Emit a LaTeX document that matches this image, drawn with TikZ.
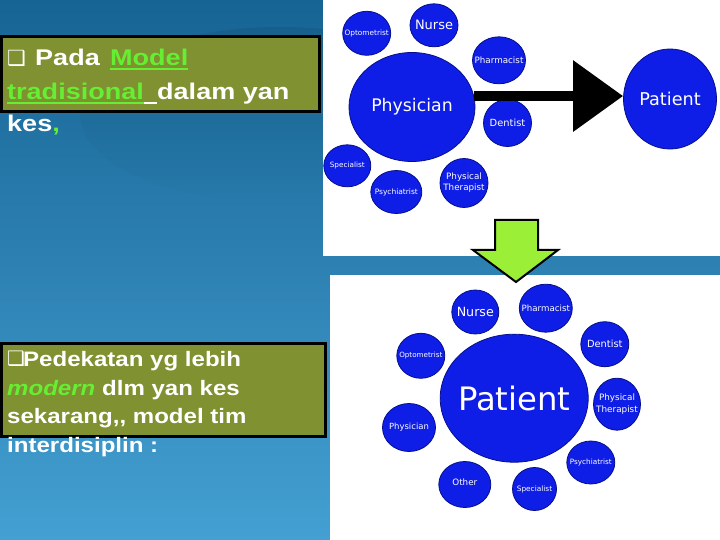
\documentclass[tikz,border=0pt]{standalone}
\usepackage{fontspec}
\setmainfont{Liberation Sans}
\newfontfamily\boxfA[FakeStretch=1.19]{Liberation Sans}
\newfontfamily\boxfB[FakeStretch=1.15]{Liberation Sans}
\newfontfamily\labf{DejaVu Sans}
\newfontfamily\symf{DejaVu Sans}
\usetikzlibrary{shapes.geometric,arrows.meta,fadings}
\definecolor{bgtop}{RGB}{22,100,148}
\definecolor{bgbot}{RGB}{68,160,210}
\definecolor{olivebox}{RGB}{127,145,48}
\definecolor{greentext}{RGB}{102,238,51}
\definecolor{bubfill}{RGB}{15,30,230}
\definecolor{bubline}{RGB}{5,15,140}
\definecolor{arrowgreen}{RGB}{155,240,55}
\begin{document}
\begin{tikzpicture}[x=1bp,y=-1bp,
  bub/.style 2 args={ellipse, fill=bubfill, draw=bubline, line width=0.8bp, inner sep=0pt, minimum width=#1bp, minimum height=#2bp},
  lab/.style 2 args={text=white, inner sep=0pt, align=center, font=\labf\fontsize{#1}{#2}\selectfont},
  txtA/.style={inner sep=0pt, anchor=base west, text=white, font=\boxfA\bfseries\fontsize{22.8}{27}\selectfont},
  txtB/.style={inner sep=0pt, anchor=base west, text=white, font=\boxfB\bfseries\fontsize{21}{25}\selectfont},
  symb/.style={inner sep=0pt, anchor=base west, text=white, font=\symf\fontsize{#1}{#1}\selectfont},
  textbox/.style={draw=black, line width=3bp, fill=olivebox},
  uline/.style={line width=2.2bp}
]
\useasboundingbox (0,0) rectangle (720,540);
% background
\shade[top color=bgtop, bottom color=bgbot] (0,0) rectangle (720,540);
\fill[black, opacity=0.07, path fading=south] (280,115) ellipse [x radius=200, y radius=88];
% white panels
\fill[white] (323,0) rectangle (720,256);
\fill[white] (330,275) rectangle (720,540);

% text box 1
\draw[textbox] (1.5,36.5) rectangle (319,111.5);
\node[symb=21] (chk1) at (7,65.5) {❑};
\node[txtA] (pada) at (35,66) {Pada};
\node[txtA, text=greentext] (model) at (110,66) {Model};
\node[txtA, text=greentext] (tradi) at (7,100) {tradisional};
\node[txtA] (dalam) at (157,100) {dalam yan};
\node[txtA] (kes) at (7,132) {kes\textcolor{greentext}{,}};
\draw[uline, greentext] ([yshift=-3bp]model.base west) -- ([yshift=-3bp]model.base east);
\draw[uline, greentext] ([yshift=-3bp]tradi.base west) -- ([yshift=-3bp]tradi.base east);
\draw[uline, white] ([yshift=-3bp]tradi.base east) -- ([yshift=-3bp]dalam.base west);

% text box 2
\draw[textbox] (1.5,343.5) rectangle (325,436.5);
\node[symb=20] (chk2) at (7,365.5) {❑};
\node[txtB] (ped) at (23,366) {Pedekatan yg lebih};
\node[txtB] (mod) at (7,395) {\textcolor{greentext}{\itshape modern} dlm yan kes};
\node[txtB] (sek) at (7,423) {sekarang,, model tim};
\node[txtB] (inter) at (7,452) {interdisiplin :};

% top diagram
\node[bub={48}{44}] (optT) at (366.7,33.3) {};
\node[bub={48}{43}] (nurseT) at (434,25.3) {};
\node[bub={53}{47}] (pharmT) at (499,60.3) {};
\node[bub={126}{109}] (physT) at (412,107) {};
\node[bub={48}{47}] (dentT) at (507.5,123) {};
\node[bub={47}{42}] (specT) at (347.3,165.8) {};
\node[bub={51}{43}] (psyT) at (396.3,192) {};
\node[bub={48}{49}] (ptT) at (464,183) {};
\node[bub={93}{100}] (patT) at (670,99) {};
\node[lab={7.4}{9}] (optTl) at (optT.center) {Optometrist};
\node[lab={13}{15}] (nurseTl) at (nurseT.center) {Nurse};
\node[lab={8.8}{10}] (pharmTl) at (pharmT.center) {Pharmacist};
\node[lab={17.4}{20}] (physTl) at (physT.center) {Physician};
\node[lab={9.9}{11}] (dentTl) at (dentT.center) {Dentist};
\node[lab={7.3}{9}] (specTl) at (specT.center) {Specialist};
\node[lab={7.5}{9}] (psyTl) at (psyT.center) {Psychiatrist};
\node[lab={8.8}{11}] (ptTl) at (ptT.center) {Physical\\Therapist};
\node[lab={17.7}{20}] (patTl) at (patT.center) {Patient};
\draw[line width=10bp, -{Triangle[length=50bp,width=69bp]}] (physT.10) -- (physT.10 -| patT.west);

% green down arrow
\draw[line width=2bp, fill=arrowgreen, line join=miter]
  (495,220) -- (538,220) -- (538,250) -- (558,250) -- (516,282) -- (473,250) -- (495,250) -- cycle;

% bottom diagram
\node[bub={47}{44}] (nurseB) at (475.3,312) {};
\node[bub={53}{48}] (pharmB) at (545.8,308.2) {};
\node[bub={48}{45}] (dentB) at (604.8,344.2) {};
\node[bub={48}{45}] (optB) at (420.8,355.8) {};
\node[bub={148}{128}] (patB) at (514.2,398.2) {};
\node[bub={47}{52}] (ptB) at (617,404.2) {};
\node[bub={53}{48}] (physB) at (409,427.5) {};
\node[bub={48}{43}] (psyB) at (590.8,462.5) {};
\node[bub={52}{46}] (otherB) at (464.8,484.5) {};
\node[bub={44}{43}] (specB) at (534.5,489) {};
\node[lab={12.7}{15}] (nurseBl) at (nurseB.center) {Nurse};
\node[lab={8.7}{10}] (pharmBl) at (pharmB.center) {Pharmacist};
\node[lab={9.9}{11}] (dentBl) at (dentB.center) {Dentist};
\node[lab={7.2}{9}] (optBl) at (optB.center) {Optometrist};
\node[lab={32.4}{36}] (patBl) at (patB.center) {Patient};
\node[lab={8.85}{12}] (ptBl) at (ptB.center) {Physical\\Therapist};
\node[lab={8.5}{10}] (physBl) at (physB.center) {Physician};
\node[lab={7.3}{9}] (psyBl) at (psyB.center) {Psychiatrist};
\node[lab={8.8}{10}] (otherBl) at ([yshift=2.5bp]otherB.center) {Other};
\node[lab={7.4}{9}] (specBl) at (specB.center) {Specialist};
\end{tikzpicture}
\end{document}
